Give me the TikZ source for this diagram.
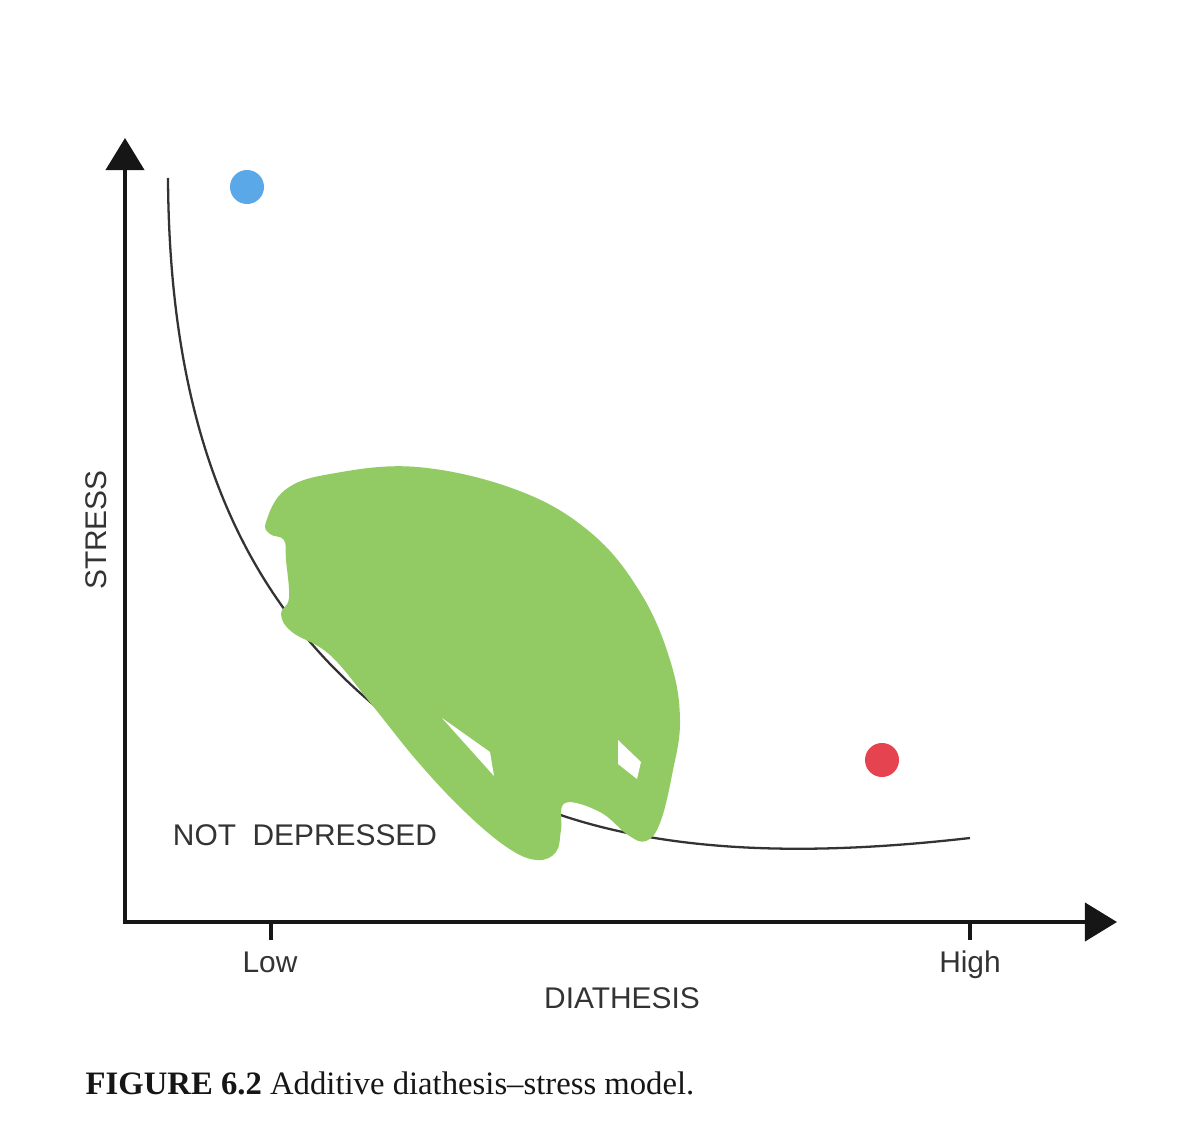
\documentclass[tikz,border=0pt]{standalone}
\usepackage{fontspec}
\newfontfamily\labelfont{Liberation Sans}
\newfontfamily\capfont[Ligatures=TeX]{Liberation Serif}
\usetikzlibrary{arrows.meta}
\definecolor{axisink}{HTML}{161616}
\definecolor{labelink}{HTML}{333333}
\definecolor{scribble}{HTML}{92CB63}
\definecolor{lowdot}{HTML}{5AA8E8}
\definecolor{highdot}{HTML}{E5434F}
\tikzset{
  axes/.style={{Triangle[length=0.32cm,width=0.38cm]}-{Triangle[length=0.32cm,width=0.38cm]},axisink,line width=1.15pt},
  tickmark/.style={axisink,line width=1.15pt},
  lbl/.style={font=\labelfont\fontsize{8.5}{10}\selectfont,text=labelink,inner sep=0pt},
  dot/.style={circle,fill=#1,minimum size=0.34cm,inner sep=0pt},
}

\begin{document}
\begin{tikzpicture}[x=0.01cm,y=-0.01cm]
\useasboundingbox (0,0) rectangle (1200,1143);
% axes
\coordinate (O)    at (125,922);
\coordinate (ytip) at (125,138);
\coordinate (xtip) at (1117,922);
\coordinate (lowtick)  at (271,922);
\coordinate (hightick) at (970,922);
\draw[axes] (ytip) -- (O) -- (xtip);
\draw[tickmark] (lowtick) -- ++(0,18);
\draw[tickmark] (hightick) -- ++(0,18);
\node[lbl,anchor=base] (low)  at (270,972) {Low};
\node[lbl,anchor=base] (high) at (970,972) {High};
\node[lbl,anchor=base] (xname) at (622,1008) {DIATHESIS};
\node[lbl,rotate=90] (yname) at (96,530) {STRESS};
\node[lbl] (notdep) at (305,835) {NOT\ \ DEPRESSED};
% threshold curve
\draw[labelink,line width=0.65pt] (168,178) .. controls (170,545) and (320,690) .. (500,790)
  .. controls (640,860) and (820,855) .. (970,838);
% scribble over the curve
\fill[scribble] plot[smooth cycle,tension=0.65] coordinates {
  (266,522) (285,490) (330,474) (417,467) (517,490) (590,532) (640,592) (670,660)
  (680,720) (672,775) (660,823) (646,841) (628,835) (600,812) (565,803) (561,830)
  (556,852) (537,860) (508,848) (465,812) (418,762) (372,705) (330,655) (292,632)
  (281,614) (289,598) (286,560) (284,540) (270,534)};
\fill[white] (442,718) -- (490,752) -- (494,776) -- cycle;
\fill[white] (618,740) -- (641,762) -- (637,779) -- (618,764) -- cycle;
% individuals
\node[dot=lowdot]  (lowperson)  at (247,187) {};
\node[dot=highdot] (highperson) at (882,760) {};
% caption
\node[anchor=base west,inner sep=0pt,font=\capfont\fontsize{9.3}{11}\selectfont,text=axisink] (caption) at (85,1094)
  {\textbf{FIGURE 6.2} Additive diathesis--stress model.};
\end{tikzpicture}
\end{document}
